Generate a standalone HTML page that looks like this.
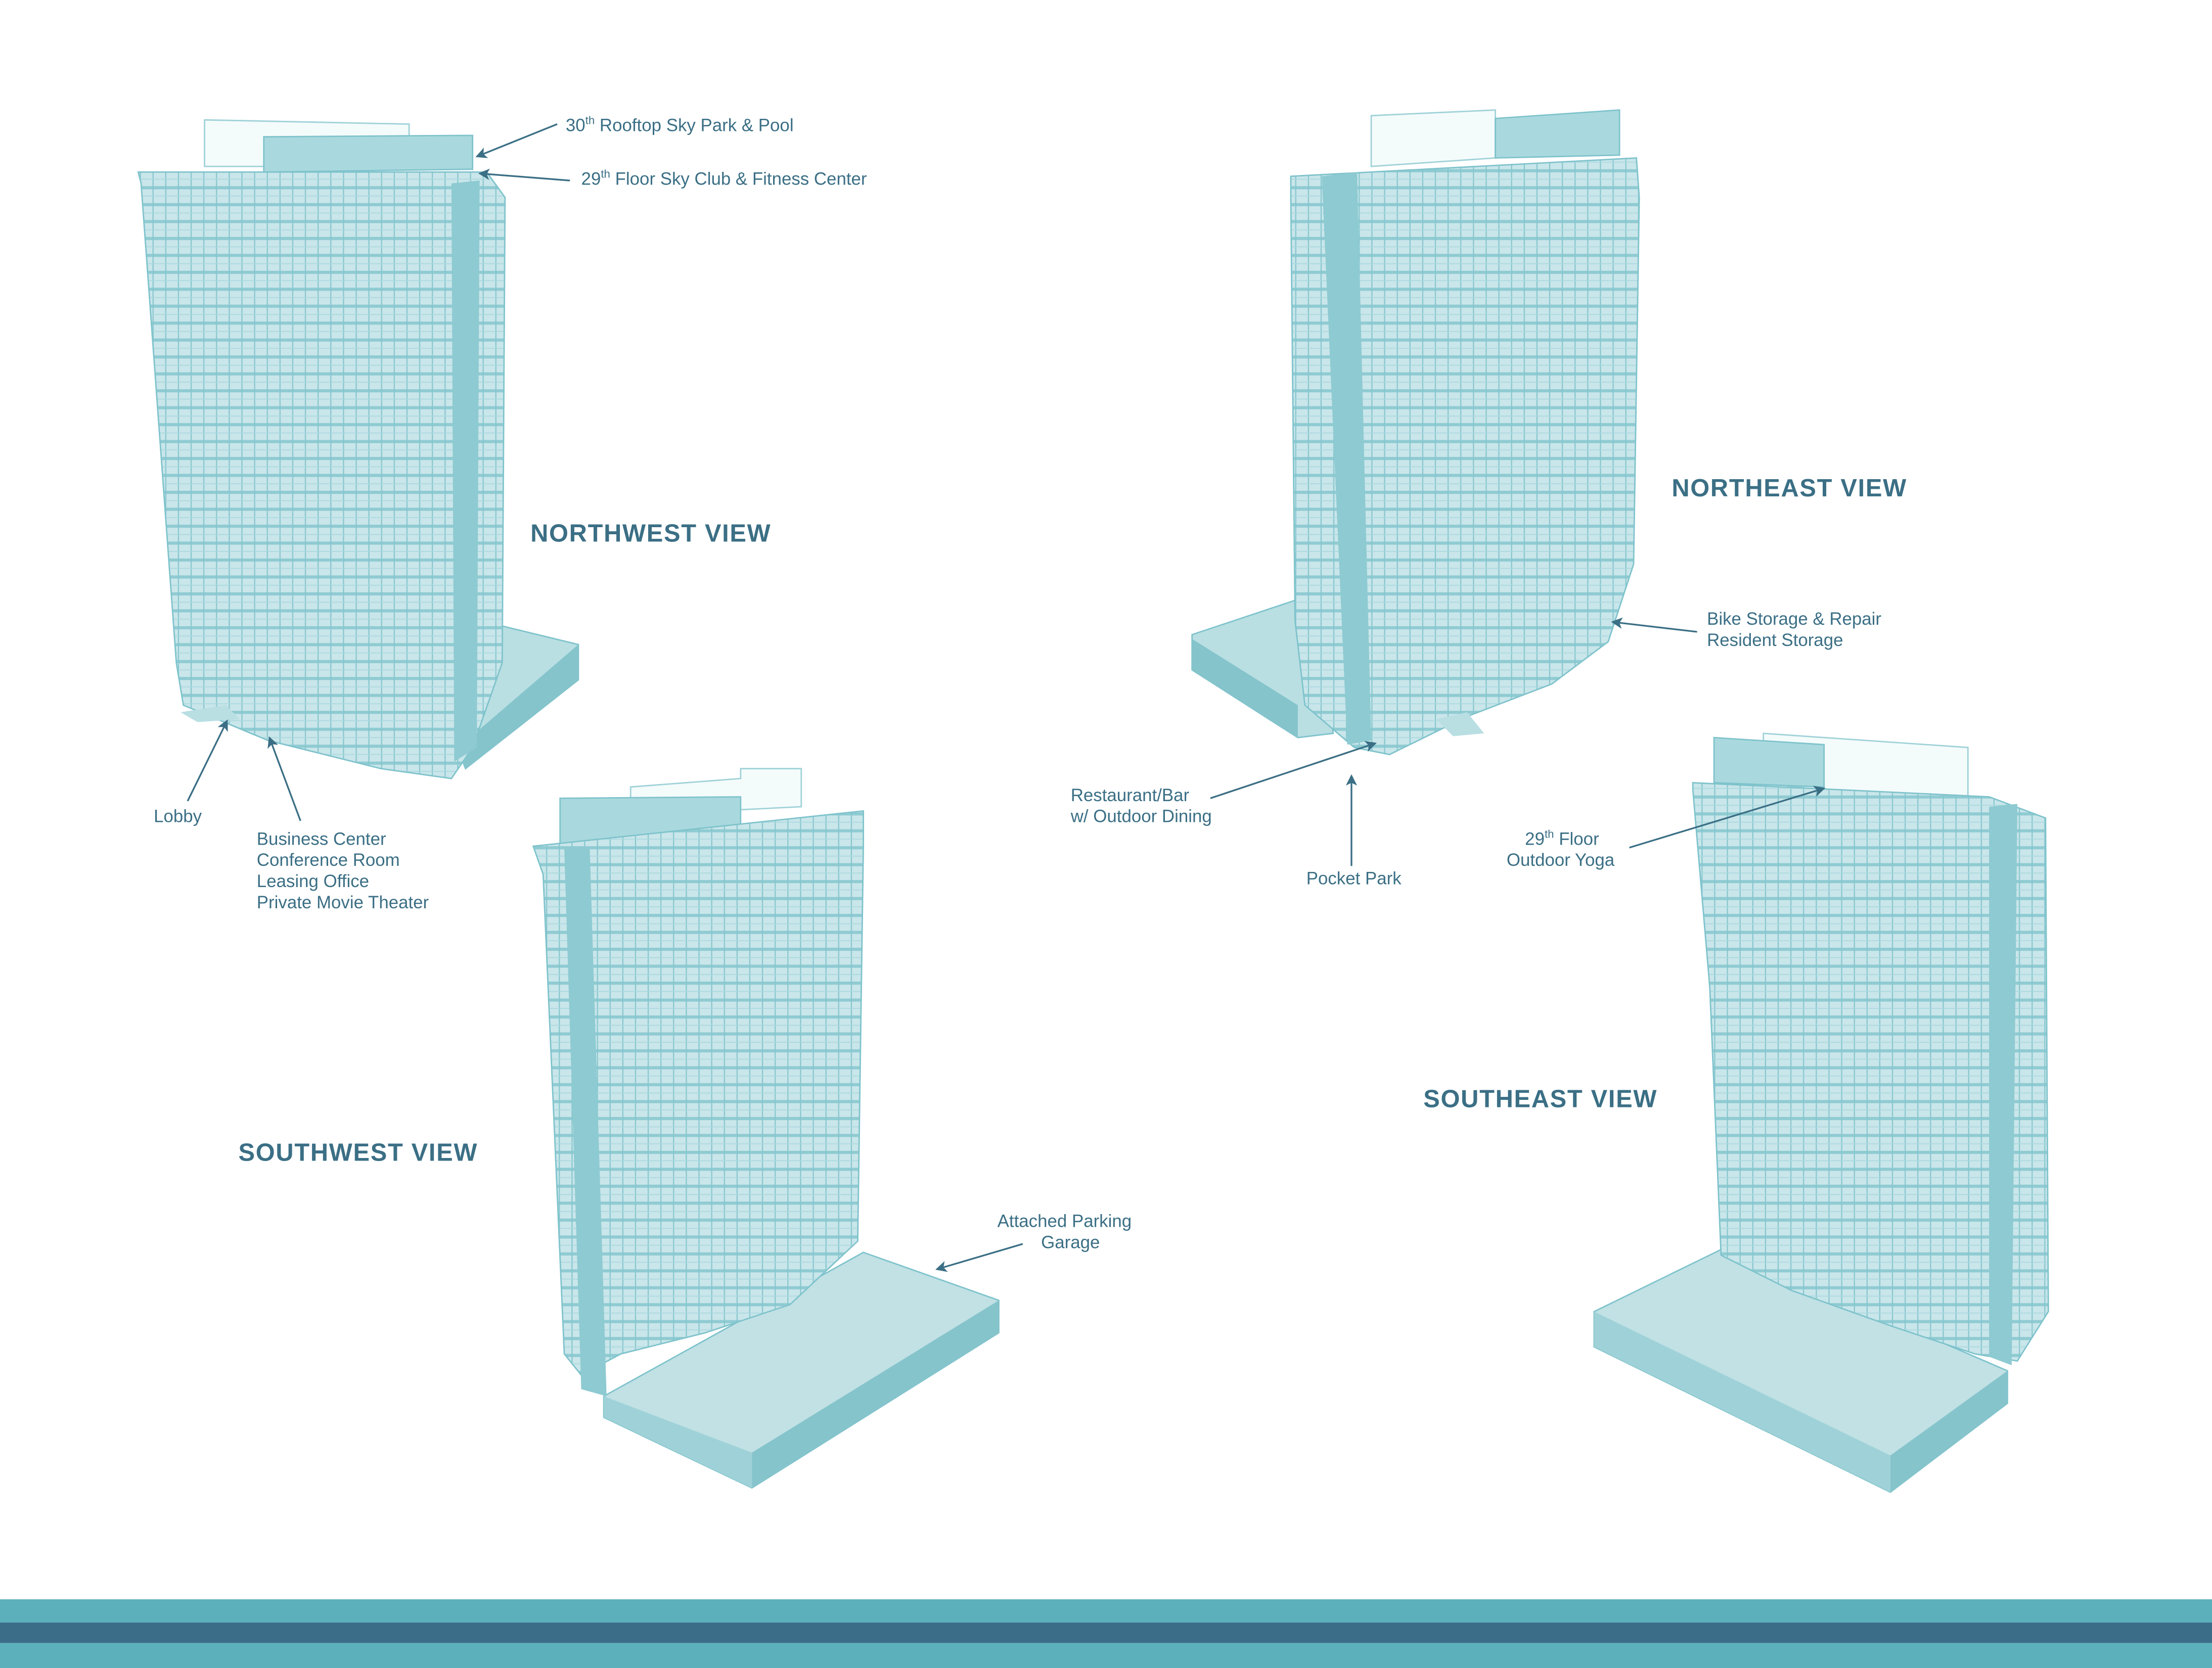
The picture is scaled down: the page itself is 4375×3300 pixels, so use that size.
<!DOCTYPE html>
<html><head><meta charset="utf-8"><style>
html,body{margin:0;padding:0;background:#fff;}
body{width:4375px;height:3300px;overflow:hidden;position:relative;}
svg{position:absolute;left:0;top:0;}
.l{font-family:"Liberation Sans",sans-serif;font-size:12.5px;fill:#3b6f85;}
.t{font-family:"Liberation Sans",sans-serif;font-size:17.5px;font-weight:bold;fill:#3b6f85;letter-spacing:0.6px;}
.ar{stroke:#3b6f85;stroke-width:1.2;fill:none;}
</style></head><body>
<svg width="4375" height="3300" viewBox="0 0 1568 1182.7" preserveAspectRatio="none">
<defs>
<pattern id="g" width="9" height="12" patternUnits="userSpaceOnUse">
<rect width="9" height="12" fill="#c9e6ea"/>
<rect y="0" width="9" height="2.2" fill="#8fcbd2"/>
<path d="M0.5 0V12" stroke="#86c6ce" stroke-width="0.8"/>
<path d="M0 7H9" stroke="#a8d8de" stroke-width="0.6"/>
</pattern>
<marker id="a" markerWidth="8" markerHeight="8" refX="7" refY="4" orient="auto" markerUnits="userSpaceOnUse"><path d="M0 0L8 4L0 8L2 4Z" fill="#3b6f85"/></marker>
</defs>
<rect x="0" y="1134" width="1568" height="17" fill="#5cb0bb"/>
<rect x="0" y="1150.5" width="1568" height="14.5" fill="#3b6c88"/>
<rect x="0" y="1165" width="1568" height="18" fill="#5cb0bb"/>

<!-- NW -->
<polygon points="340,440 410,457 410,482 330,545 320,520" fill="#b9dfe3" stroke="#7fc3cc"/>
<polygon points="410,457 410,482 330,545 325,530" fill="#86c4cc"/>
<polygon points="145,85 290,88 290,118 145,118" fill="#f4fbfb" stroke="#9fd2d8"/>
<polygon points="187,97 335,96 335,120 187,122" fill="#a9d9de" stroke="#7fc3cc"/>
<polygon points="98,122 345,122 358,140 356,470 335,530 320,552 270,545 190,525 130,500 125,470 100,130" fill="url(#g)" stroke="#7fc3cc"/>
<polygon points="320,130 340,128 338,530 322,540" fill="#8ecad1"/>
<polygon points="128,505 160,500 170,510 140,512" fill="#b9dfe3"/>

<!-- NE -->
<polygon points="845,450 935,420 945,520 920,523 845,475" fill="#b9dfe3" stroke="#7fc3cc"/>
<polygon points="845,453 920,500 920,523 845,475" fill="#86c4cc"/>
<polygon points="972,82 1060,78 1060,112 972,118" fill="#f4fbfb" stroke="#9fd2d8"/>
<polygon points="1060,84 1148,78 1148,110 1060,112" fill="#a9d9de" stroke="#7fc3cc"/>
<polygon points="915,125 1160,112 1162,140 1158,400 1140,455 1100,485 1040,508 985,535 960,530 925,500 918,440 915,140" fill="url(#g)" stroke="#7fc3cc"/>
<polygon points="937,125 962,122 972,525 955,528" fill="#8ecad1"/>
<polygon points="1018,510 1040,505 1052,520 1030,522" fill="#b9dfe3"/>

<!-- SW -->
<polygon points="428,990 612,888 708,922 708,945 533,1055 428,1005" fill="#c1e1e4" stroke="#7fc3cc"/>
<polygon points="533,1030 708,922 708,945 533,1055" fill="#86c4cc"/>
<polygon points="428,990 533,1030 533,1055 428,1005" fill="#9fd2d8"/>
<polygon points="447,558 525,552 525,545 568,545 568,572 447,578" fill="#f4fbfb" stroke="#9fd2d8"/>
<polygon points="397,566 525,565 525,595 397,598" fill="#a9d9de" stroke="#7fc3cc"/>
<polygon points="378,600 612,575 612,600 608,880 560,925 500,945 440,960 412,975 400,960 385,620" fill="url(#g)" stroke="#7fc3cc"/>
<polygon points="400,602 418,600 430,990 412,985" fill="#8ecad1"/>

<!-- SE -->
<polygon points="1130,930 1222,885 1423,972 1423,995 1340,1058 1130,955" fill="#c1e1e4" stroke="#7fc3cc"/>
<polygon points="1340,1032 1423,972 1423,995 1340,1058" fill="#86c4cc"/>
<polygon points="1130,930 1340,1032 1340,1058 1130,955" fill="#9fd2d8"/>
<polygon points="1250,520 1395,530 1395,565 1290,560 1250,555" fill="#f4fbfb" stroke="#9fd2d8"/>
<polygon points="1215,523 1293,528 1293,558 1215,555" fill="#a9d9de" stroke="#7fc3cc"/>
<polygon points="1200,555 1410,565 1450,580 1452,930 1430,965 1400,960 1340,940 1270,915 1220,890 1212,700 1200,560" fill="url(#g)" stroke="#7fc3cc"/>
<polygon points="1410,572 1430,570 1426,968 1410,962" fill="#8ecad1"/>

<!-- labels -->
<text class="t" x="376" y="384">NORTHWEST VIEW</text>
<text class="t" x="1185" y="352">NORTHEAST VIEW</text>
<text class="t" x="169" y="823">SOUTHWEST VIEW</text>
<text class="t" x="1009" y="785">SOUTHEAST VIEW</text>

<text class="l" x="401" y="93">30<tspan font-size="8" dy="-5">th</tspan><tspan dy="5"> Rooftop Sky Park &amp; Pool</tspan></text>
<path class="ar" d="M395 88L338 111" marker-end="url(#a)"/>
<text class="l" x="412" y="131">29<tspan font-size="8" dy="-5">th</tspan><tspan dy="5"> Floor Sky Club &amp; Fitness Center</tspan></text>
<path class="ar" d="M404 128L340 123" marker-end="url(#a)"/>
<text class="l" x="109" y="583">Lobby</text>
<path class="ar" d="M133 568L161 511" marker-end="url(#a)"/>
<text class="l" x="182" y="599">Business Center</text>
<text class="l" x="182" y="614">Conference Room</text>
<text class="l" x="182" y="629">Leasing Office</text>
<text class="l" x="182" y="644">Private Movie Theater</text>
<path class="ar" d="M213 582L191 523" marker-end="url(#a)"/>

<text class="l" x="1210" y="443">Bike Storage &amp; Repair</text>
<text class="l" x="1210" y="458">Resident Storage</text>
<path class="ar" d="M1203 448L1143 441" marker-end="url(#a)"/>
<text class="l" x="759" y="568">Restaurant/Bar</text>
<text class="l" x="759" y="583">w/ Outdoor Dining</text>
<path class="ar" d="M858 566L975 527" marker-end="url(#a)"/>
<text class="l" x="926" y="627">Pocket Park</text>
<path class="ar" d="M958 614L958 550" marker-end="url(#a)"/>
<text class="l" x="1081" y="599">29<tspan font-size="8" dy="-5">th</tspan><tspan dy="5"> Floor</tspan></text>
<text class="l" x="1068" y="614">Outdoor Yoga</text>
<path class="ar" d="M1155 601L1293 559" marker-end="url(#a)"/>
<text class="l" x="707" y="870">Attached Parking</text>
<text class="l" x="738" y="885">Garage</text>
<path class="ar" d="M725 882L664 900" marker-end="url(#a)"/>
</svg>
</body></html>
